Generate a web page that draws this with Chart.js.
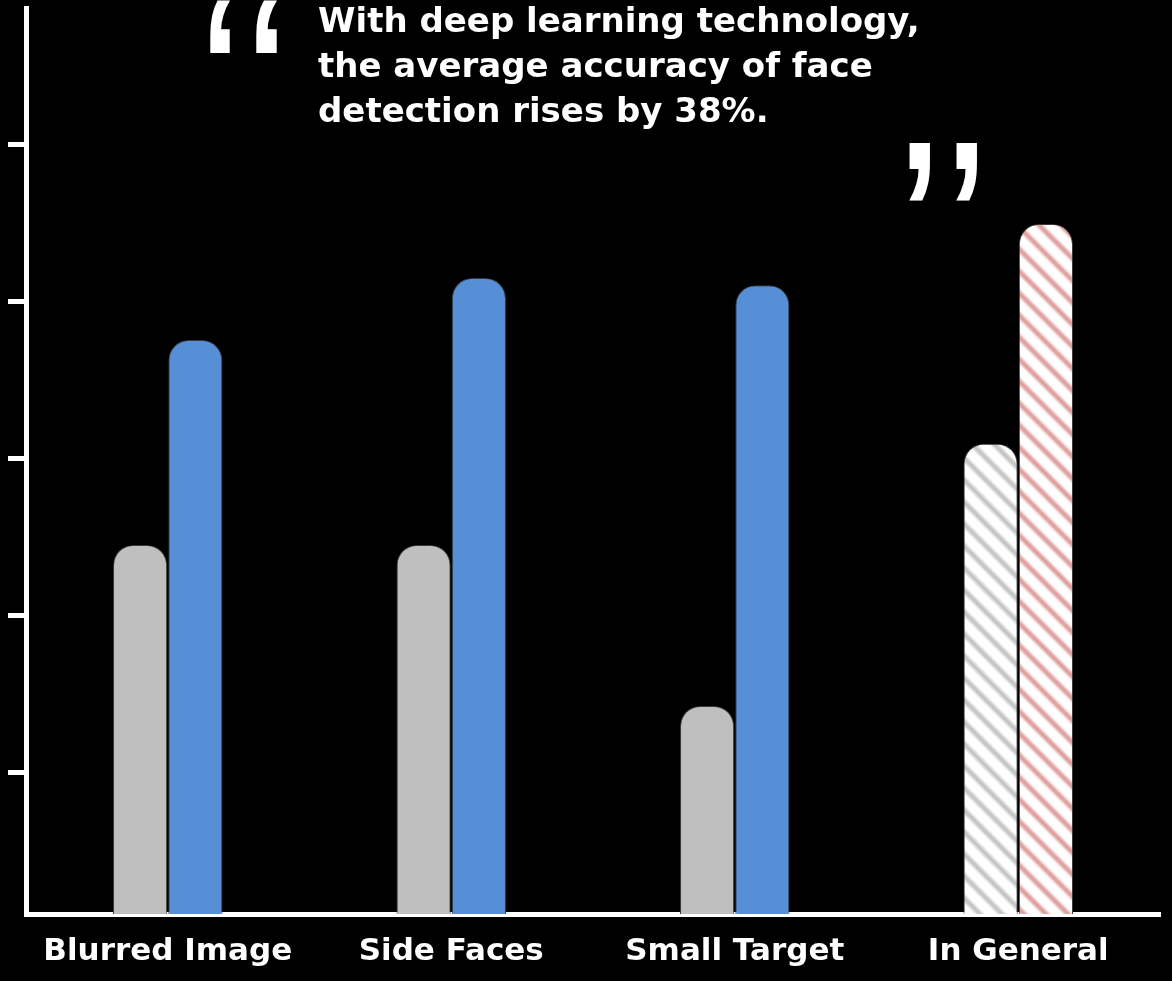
<!DOCTYPE html>
<html>
<head>
<meta charset="utf-8">
<script src="https://cdn.jsdelivr.net/npm/chart.js@4.4.1/dist/chart.umd.min.js"></script>
<style>
html,body{margin:0;padding:0;background:#000;}
#wrap{width:1172px;height:981px;position:relative;}
</style>
</head>
<body>
<div id="wrap"><canvas id="c"></canvas></div>
<script>
// ---- data ----
const categories = ['Blurred Image', 'Side Faces', 'Small Target', 'In General'];
const traditionalValues = [47.0, 47.0, 26.5, 59.9];
const deepLearningValues = [73.1, 81.0, 80.1, 87.9];
const yTickValues = [18, 38, 58, 78, 98];
const quoteLines = ['With deep learning technology,', 'the average accuracy of face', 'detection rises by 38%.'];

// ---- styles ----
const GRAY = '#bfbfbf';
const BLUE = '#568fd6';

function stripes(color) {
  const s = 22;
  const cv = document.createElement('canvas');
  cv.width = s; cv.height = s;
  const x = cv.getContext('2d');
  x.fillStyle = '#ffffff';
  x.fillRect(0, 0, s, s);
  x.strokeStyle = color;
  x.lineWidth = 5;
  x.filter = 'blur(0.8px)';
  x.beginPath();
  for (const o of [-s, 0, s]) {
    x.moveTo(o - 3, -3);
    x.lineTo(o + s + 3, s + 3);
  }
  x.stroke();
  return x.createPattern(cv, 'repeat');
}
const grayStripes = stripes('#c4c4c4');
const redStripes = stripes('#de9f9d');

function drawFit(c, ch, x0, y0, x1, y1) {
  c.save();
  c.font = 'bold 200px "Liberation Sans"';
  const m = c.measureText(ch);
  const w = m.actualBoundingBoxLeft + m.actualBoundingBoxRight;
  const h = m.actualBoundingBoxAscent + m.actualBoundingBoxDescent;
  c.translate(x0, y0);
  c.scale((x1 - x0) / w, (y1 - y0) / h);
  c.textBaseline = 'alphabetic';
  c.textAlign = 'left';
  c.fillText(ch, m.actualBoundingBoxLeft, m.actualBoundingBoxAscent);
  c.restore();
}

const bgPlugin = {
  id: 'bg',
  beforeDraw(chart) {
    const c = chart.ctx;
    c.save();
    c.fillStyle = '#000';
    c.fillRect(0, 0, chart.width, chart.height);
    c.restore();
  }
};

const annotPlugin = {
  id: 'annot',
  afterDraw(chart) {
    const c = chart.ctx;
    c.save();
    c.fillStyle = '#ffffff';
    c.font = 'bold 34px "DejaVu Sans"';
    c.textBaseline = 'alphabetic';
    c.textAlign = 'left';
    quoteLines.forEach((t, i) => c.fillText(t, 318, 32 + i * 45));
    // opening quotation mark (two strokes)
    drawFit(c, '\u2018', 210, 0, 230, 53);
    drawFit(c, '\u2018', 256, 0, 277, 53);
    // closing quotation mark (two strokes)
    drawFit(c, '\u2019', 909, 143, 930, 201);
    drawFit(c, '\u2019', 956, 143, 977, 201);
    c.restore();
  }
};

const radius = {topLeft: 20, topRight: 20, bottomLeft: 0, bottomRight: 0};

new Chart(document.getElementById('c'), {
  type: 'bar',
  data: {
    labels: categories,
    datasets: [
      {
        label: 'Traditional',
        data: traditionalValues,
        backgroundColor: [GRAY, GRAY, GRAY, grayStripes],
        borderColor: '#3a3a3a',
        borderWidth: 1,
        borderSkipped: 'start',
        borderRadius: radius,
        categoryPercentage: 0.39,
        barPercentage: 0.98
      },
      {
        label: 'Deep learning',
        data: deepLearningValues,
        backgroundColor: [BLUE, BLUE, BLUE, redStripes],
        borderColor: '#3a3a3a',
        borderWidth: 1,
        borderSkipped: 'start',
        borderRadius: radius,
        categoryPercentage: 0.39,
        barPercentage: 0.98
      }
    ]
  },
  options: {
    responsive: true,
    maintainAspectRatio: false,
    devicePixelRatio: 1,
    animation: false,
    layout: {padding: {left: 8, right: 12, top: 8, bottom: 13}},
    plugins: {legend: {display: false}, tooltip: {enabled: false}},
    scales: {
      x: {
        afterFit(scale) { scale.height = 54; },
        grid: {display: true, drawOnChartArea: false, drawTicks: false},
        border: {display: true, color: '#ffffff', width: 5},
        ticks: {
          color: '#ffffff',
          padding: 19,
          font: {family: '"DejaVu Sans"', size: 31, weight: 'bold'},
          maxRotation: 0
        }
      },
      y: {
        min: 0,
        max: 115.4,
        afterBuildTicks(scale) {
          scale.ticks = yTickValues.map(v => ({value: v}));
        },
        grid: {display: true, drawOnChartArea: false, drawTicks: true, tickLength: 18, color: '#ffffff', lineWidth: 5},
        border: {display: true, color: '#ffffff', width: 5},
        ticks: {display: false}
      }
    }
  },
  plugins: [bgPlugin, annotPlugin]
});
</script>
</body>
</html>
